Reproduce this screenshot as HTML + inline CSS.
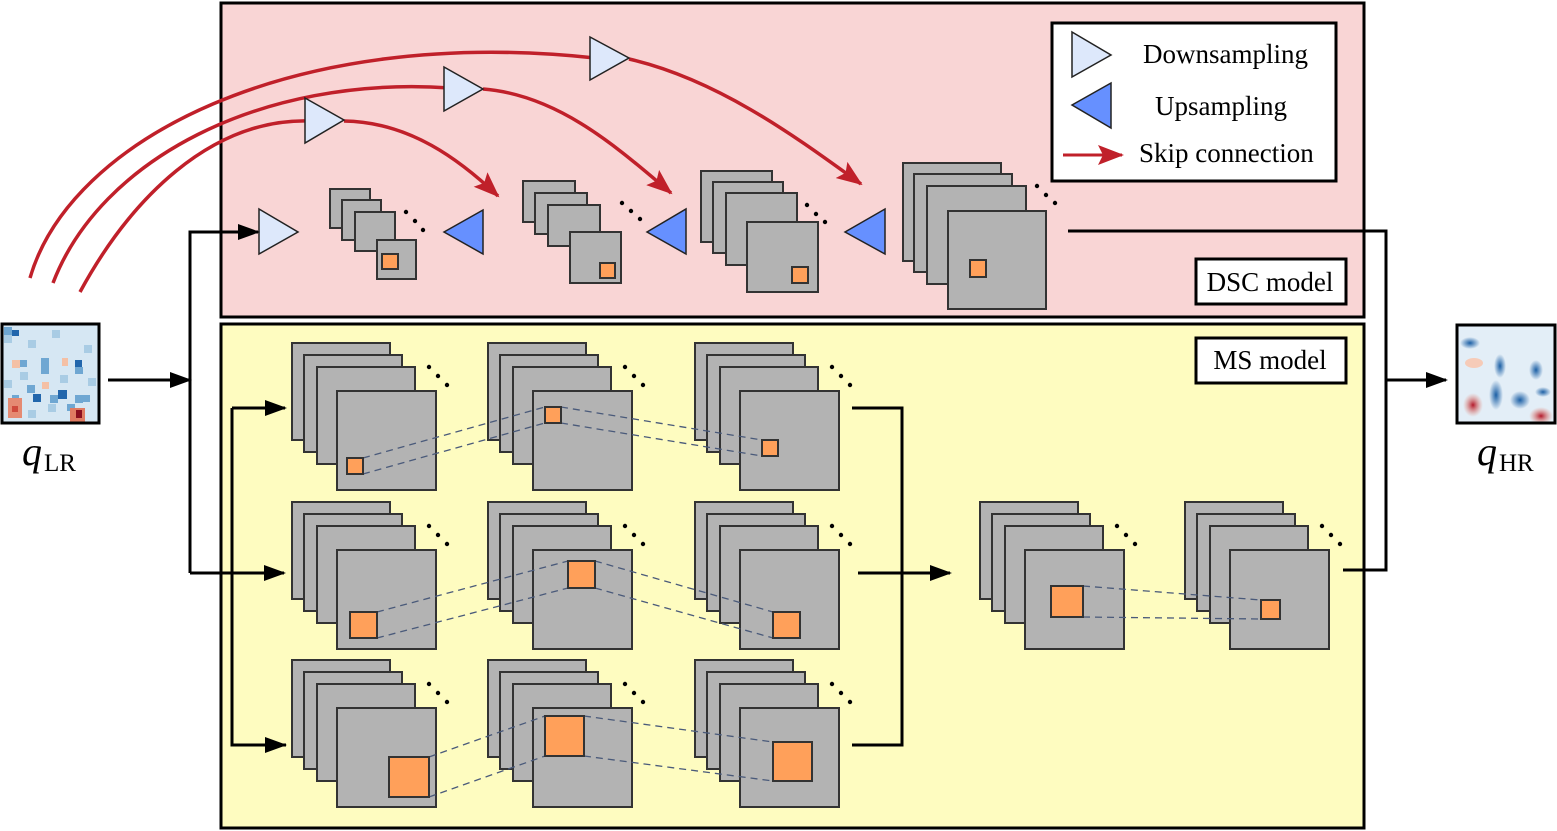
<!DOCTYPE html>
<html><head><meta charset="utf-8"><style>
html,body{margin:0;padding:0;background:#fff;}
svg{display:block;}
text{font-family:"Liberation Serif",serif;fill:#000;}
</style></head><body>
<svg width="1557" height="831" viewBox="0 0 1557 831" xmlns="http://www.w3.org/2000/svg">
<defs>
<marker id="ab" markerWidth="22" markerHeight="16" refX="20" refY="8" orient="auto" markerUnits="userSpaceOnUse" viewBox="0 0 22 16"><path d="M0,0 L22,8 L0,16 z" fill="#000"/></marker>
<marker id="ar" markerWidth="26" markerHeight="20" refX="24" refY="10" orient="auto" markerUnits="userSpaceOnUse" viewBox="0 0 26 20"><path d="M0,0 L26,10 L0,20 L5,10 z" fill="#c0202a"/></marker>
<g id="stk" stroke="#333" stroke-width="2" fill="#b3b3b3">
<rect x="0" y="0" width="98" height="97"/>
<rect x="12" y="12" width="98" height="97"/>
<rect x="25" y="24" width="98" height="97"/>
<rect x="45" y="48" width="99" height="99"/>
<circle cx="137" cy="24" r="2.2" fill="#000" stroke="none"/>
<circle cx="146" cy="33" r="2.2" fill="#000" stroke="none"/>
<circle cx="155" cy="42" r="2.2" fill="#000" stroke="none"/>
</g>
<radialGradient id="rb" cx="0.5" cy="0.5" r="0.5"><stop offset="0" stop-color="#1b5fa5"/><stop offset="1" stop-color="#1b5fa5" stop-opacity="0"/></radialGradient>
<radialGradient id="rr" cx="0.5" cy="0.5" r="0.5"><stop offset="0" stop-color="#b2182b"/><stop offset="1" stop-color="#e8826a" stop-opacity="0"/></radialGradient>
</defs>

<rect x="221" y="3" width="1143" height="314" fill="#f9d5d5" stroke="#000" stroke-width="3"/>
<rect x="221" y="324" width="1143" height="504" fill="#fefcc0" stroke="#000" stroke-width="3"/>

<rect x="1052" y="23" width="284" height="158" fill="#fff" stroke="#000" stroke-width="3"/>
<polygon points="1072,32 1111,55 1072,77" fill="#dde8fb" stroke="#222" stroke-width="1.5"/>
<text x="1143" y="63" font-size="27">Downsampling</text>
<polygon points="1072,105 1111,83 1111,128" fill="#6690ff" stroke="#222" stroke-width="1.5"/>
<text x="1155" y="115" font-size="27">Upsampling</text>
<line x1="1063" y1="155" x2="1122" y2="155" stroke="#c0202a" stroke-width="3" marker-end="url(#ar)"/>
<text x="1139" y="162" font-size="27">Skip connection</text>

<rect x="1196" y="259" width="150" height="45" fill="#fff" stroke="#000" stroke-width="3"/>
<text x="1270" y="291" font-size="27" text-anchor="middle">DSC model</text>
<rect x="1196" y="338" width="150" height="45" fill="#fff" stroke="#000" stroke-width="3"/>
<text x="1270" y="369" font-size="27" text-anchor="middle">MS model</text>

<g fill="none" stroke="#c0202a" stroke-width="3.5">
<path d="M80,292 C130,200 210,118 310,121"/>
<path d="M344,121 C410,122 460,160 498,196" marker-end="url(#ar)"/>
<path d="M53,283 C100,160 260,75 450,88"/>
<path d="M483,89 C560,95 620,150 671,193" marker-end="url(#ar)"/>
<path d="M30,278 C70,140 290,25 595,58"/>
<path d="M629,59 C720,80 800,140 861,184" marker-end="url(#ar)"/>
</g>
<polygon points="305,98 344,120 305,143" fill="#dde8fb" stroke="#222" stroke-width="1.5"/>
<polygon points="444,67 483,89 444,111" fill="#dde8fb" stroke="#222" stroke-width="1.5"/>
<polygon points="590,37 629,58 590,80" fill="#dde8fb" stroke="#222" stroke-width="1.5"/>

<polygon points="259,209 298,232 259,254" fill="#dde8fb" stroke="#222" stroke-width="1.5"/>
<g stroke="#333" stroke-width="2" fill="#b3b3b3">
<rect x="330" y="189" width="40" height="39"/><rect x="342" y="200" width="39" height="40"/><rect x="355" y="212" width="40" height="39"/><rect x="377" y="240" width="39" height="39"/>
<rect x="382" y="254" width="16" height="15" fill="#ffa05a"/>
<rect x="523" y="181" width="52" height="41"/><rect x="535" y="193" width="52" height="41"/><rect x="548" y="205" width="52" height="41"/><rect x="570" y="232" width="51" height="51"/>
<rect x="600" y="263" width="15" height="15" fill="#ffa05a"/>
<rect x="701" y="171" width="71" height="71"/><rect x="713" y="182" width="70" height="71"/><rect x="726" y="193" width="71" height="72"/><rect x="747" y="222" width="71" height="70"/>
<rect x="792" y="267" width="16" height="16" fill="#ffa05a"/>
<rect x="903" y="163" width="98" height="98"/><rect x="914" y="174" width="98" height="98"/><rect x="927" y="186" width="99" height="98"/><rect x="948" y="211" width="98" height="98"/>
<rect x="970" y="260" width="16" height="17" fill="#ffa05a"/>
</g>
<g fill="#000">
<circle cx="406" cy="212" r="2.2"/><circle cx="415" cy="221" r="2.2"/><circle cx="423" cy="230" r="2.2"/>
<circle cx="622" cy="203" r="2.2"/><circle cx="631" cy="211" r="2.2"/><circle cx="640" cy="219" r="2.2"/>
<circle cx="807" cy="205" r="2.2"/><circle cx="816" cy="214" r="2.2"/><circle cx="825" cy="222" r="2.2"/>
<circle cx="1037" cy="186" r="2.2"/><circle cx="1046" cy="195" r="2.2"/><circle cx="1055" cy="203" r="2.2"/>
</g>
<polygon points="444,232 483,210 483,254" fill="#6690ff" stroke="#222" stroke-width="1.5"/>
<polygon points="647,232 686,209 686,254" fill="#6690ff" stroke="#222" stroke-width="1.5"/>
<polygon points="845,232 885,209 885,254" fill="#6690ff" stroke="#222" stroke-width="1.5"/>

<use href="#stk" x="292" y="343"/><use href="#stk" x="488" y="343"/><use href="#stk" x="695" y="343"/>
<use href="#stk" x="292" y="502"/><use href="#stk" x="488" y="502"/><use href="#stk" x="695" y="502"/>
<use href="#stk" x="292" y="660"/><use href="#stk" x="488" y="660"/><use href="#stk" x="695" y="660"/>
<use href="#stk" x="980" y="502"/><use href="#stk" x="1185" y="502"/>

<g fill="none" stroke="#4a5a7a" stroke-width="1.3" stroke-dasharray="7,5">
<path d="M363,458 L545,407 M363,474 L545,423 M561,407 L762,440 M561,423 L762,456"/>
<path d="M377,612 L568,561 M377,638 L568,588 M595,561 L773,612 M595,588 L773,638"/>
<path d="M429,757 L545,716 M429,797 L545,756 M584,716 L773,742 M584,756 L773,781"/>
<path d="M1083,586 L1261,600 M1083,617 L1261,619"/>
</g>
<g stroke="#333" stroke-width="2" fill="#ffa05a">
<rect x="347" y="458" width="16" height="16"/><rect x="545" y="407" width="16" height="16"/><rect x="762" y="440" width="16" height="16"/>
<rect x="350" y="612" width="27" height="26"/><rect x="568" y="561" width="27" height="27"/><rect x="773" y="612" width="27" height="26"/>
<rect x="389" y="757" width="40" height="40"/><rect x="545" y="716" width="39" height="40"/><rect x="773" y="742" width="39" height="39"/>
<rect x="1051" y="586" width="32" height="31"/><rect x="1261" y="600" width="19" height="19"/>
</g>

<g fill="none" stroke="#000" stroke-width="3">
<line x1="108" y1="380" x2="190" y2="380" marker-end="url(#ab)"/>
<path d="M190,573 L190,232 L258,232" marker-end="url(#ab)"/>
<line x1="190" y1="573" x2="284" y2="573" marker-end="url(#ab)"/>
<path d="M286,745 L232,745 L232,408"/>
<line x1="232" y1="745" x2="285" y2="745" marker-end="url(#ab)"/>
<line x1="232" y1="408" x2="285" y2="408" marker-end="url(#ab)"/>
<path d="M852,408 L902,408 L902,745 L852,745"/>
<line x1="858" y1="573" x2="950" y2="573" marker-end="url(#ab)"/>
<path d="M1068,231 L1386,231 L1386,570 L1343,570"/>
<line x1="1386" y1="380" x2="1446" y2="380" marker-end="url(#ab)"/>
</g>

<g>
<rect x="2" y="324" width="97" height="99" fill="#d6e7f3"/>
<g fill="#a9cce4">
<rect x="4" y="335" width="8" height="8"/><rect x="28" y="340" width="8" height="8"/><rect x="52" y="330" width="8" height="8"/><rect x="84" y="345" width="8" height="8"/><rect x="60" y="375" width="8" height="8"/><rect x="20" y="372" width="8" height="8"/><rect x="4" y="380" width="8" height="8"/><rect x="88" y="378" width="8" height="8"/><rect x="48" y="404" width="8" height="8"/><rect x="28" y="410" width="8" height="8"/>
</g>
<g fill="#6fa7d2">
<rect x="4" y="327" width="8" height="8"/><rect x="20" y="360" width="7" height="7"/><rect x="41" y="358" width="8" height="8"/><rect x="41" y="366" width="8" height="8"/><rect x="75" y="367" width="8" height="7"/><rect x="27" y="385" width="8" height="8"/><rect x="83" y="395" width="7" height="7"/><rect x="12" y="395" width="7" height="7"/><rect x="67" y="404" width="8" height="7"/><rect x="50" y="395" width="8" height="8"/><rect x="75" y="395" width="8" height="8"/>
</g>
<g fill="#2166ac"><rect x="33" y="394" width="8" height="8"/><rect x="58" y="390" width="9" height="9"/><rect x="12" y="330" width="7" height="6"/><rect x="75" y="360" width="7" height="7"/></g>
<g fill="#f4c0a5"><rect x="12" y="360" width="8" height="8"/><rect x="42" y="382" width="7" height="7"/><rect x="62" y="358" width="6" height="8"/></g>
<rect x="8" y="398" width="14" height="20" fill="#e58a72"/><rect x="12" y="406" width="6" height="6" fill="#cf4a3c"/>
<rect x="70" y="408" width="15" height="14" fill="#e07b62"/><rect x="76" y="410" width="6" height="8" fill="#8b0f1f"/>
<rect x="2" y="324" width="97" height="99" fill="none" stroke="#000" stroke-width="3"/>
</g>
<text x="22" y="465" font-size="40" font-style="italic">q</text><text x="44" y="471" font-size="25">LR</text>

<g>
<rect x="1457" y="325" width="98" height="98" fill="#e3eef7"/>
<ellipse cx="1470" cy="343" rx="10" ry="6" fill="url(#rb)"/>
<ellipse cx="1500" cy="366" rx="6" ry="12" fill="url(#rb)"/>
<ellipse cx="1536" cy="370" rx="7" ry="10" fill="url(#rb)"/>
<ellipse cx="1496" cy="395" rx="7" ry="15" fill="url(#rb)"/>
<ellipse cx="1520" cy="400" rx="10" ry="9" fill="url(#rb)"/>
<ellipse cx="1543" cy="392" rx="8" ry="5" fill="url(#rb)"/>
<ellipse cx="1473" cy="405" rx="10" ry="12" fill="url(#rr)"/>
<ellipse cx="1541" cy="416" rx="12" ry="9" fill="url(#rr)"/>
<ellipse cx="1474" cy="363" rx="9" ry="5" fill="#f6cbb8"/>
<rect x="1457" y="325" width="98" height="98" fill="none" stroke="#000" stroke-width="3"/>
</g>
<text x="1477" y="465" font-size="40" font-style="italic">q</text><text x="1499" y="471" font-size="25">HR</text>
</svg>
</body></html>
